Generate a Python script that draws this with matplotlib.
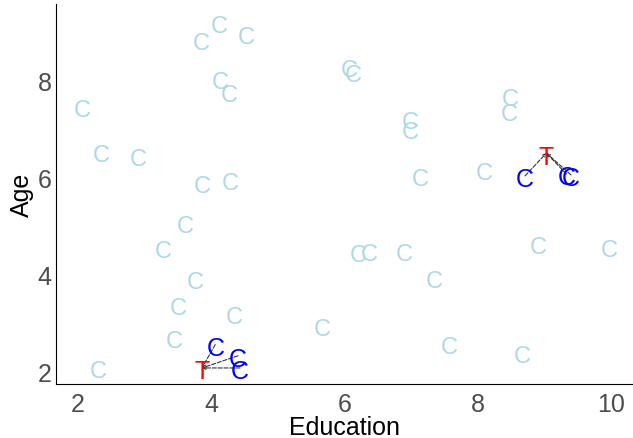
import matplotlib
matplotlib.use('Agg')
import matplotlib.pyplot as plt
from matplotlib.transforms import offset_copy

plt.rcParams['font.family'] = ['Liberation Sans', 'DejaVu Sans']

# control units (not matched)
ctrl_x = [2.06, 2.35, 2.90, 3.85, 4.12, 4.52, 4.13, 4.27, 3.86, 4.28, 3.61, 3.28,
          3.76, 3.50, 3.44, 4.34, 2.30, 6.07, 6.13, 6.98, 6.98, 8.49, 8.47, 7.14,
          8.10, 6.20, 6.37, 6.89, 7.35, 5.66, 7.57, 8.67, 8.91, 9.97]
ctrl_y = [7.45, 6.53, 6.44, 8.83, 9.18, 8.95, 8.03, 7.76, 5.89, 5.95, 5.07, 4.55,
          3.91, 3.38, 2.70, 3.19, 2.08, 8.28, 8.17, 7.21, 7.00, 7.68, 7.37, 6.03,
          6.16, 4.47, 4.49, 4.49, 3.93, 2.95, 2.58, 2.39, 4.63, 4.57]

# treated units
treat_x = [9.03, 3.86]
treat_y = [6.50, 2.08]

# matched controls, grouped by treated unit
match_x = [[8.71, 9.33, 9.40], [4.06, 4.40, 4.43]]
match_y = [[6.03, 6.07, 6.05], [2.56, 2.33, 2.08]]

fig = plt.figure(figsize=(6.33, 4.39), dpi=100)
ax = fig.add_axes([0.0885, 0.123, 0.9115, 0.866])

ax.set_xlim(1.67, 10.33)
ax.set_ylim(1.75, 9.57)

# glyph centre correction (text box centre sits below the letter centre)
tr = offset_copy(ax.transData, fig=fig, x=0, y=-2.5, units='points')

for x, y in zip(ctrl_x, ctrl_y):
    ax.text(x, y, 'C', color='#ADD8E6', fontsize=17, ha='center', va='center',
            transform=tr)

for tx, ty, mx, my in zip(treat_x, treat_y, match_x, match_y):
    for x, y in zip(mx, my):
        ax.annotate('', xy=(tx, ty), xytext=(x, y),
                    arrowprops=dict(arrowstyle='->', linestyle='--', color='#333333',
                                    lw=0.8, shrinkA=0, shrinkB=0, mutation_scale=5))
    for x, y in zip(mx, my):
        ax.text(x, y, 'C', color='#0000FF', fontsize=18, ha='center', va='center',
                transform=tr)
    ax.text(tx, ty, 'T', color='#FF0000', fontsize=18, ha='center', va='center',
            transform=tr)

ax.set_xticks([2, 4, 6, 8, 10])
ax.set_yticks([2, 4, 6, 8])
ax.tick_params(length=0, labelsize=18, labelcolor='#4D4D4D')
ax.tick_params(axis='x', pad=6)
ax.tick_params(axis='y', pad=3)
ax.set_xlabel('Education', fontsize=18, labelpad=-1)
ax.set_ylabel('Age', fontsize=18, labelpad=3)
for s in ['top', 'right']:
    ax.spines[s].set_visible(False)

fig.savefig('out.png', dpi=100)
